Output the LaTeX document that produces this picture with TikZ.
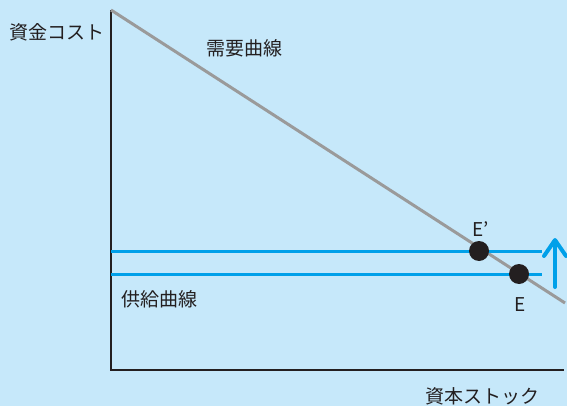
\documentclass[tikz,border=0pt]{standalone}
\usepackage{fontspec}
\setmainfont{Noto Sans CJK JP}
\usetikzlibrary{arrows.meta}
\definecolor{bg}{HTML}{C6E8FA}
\definecolor{axiscol}{HTML}{231F20}
\definecolor{demand}{HTML}{9A9A9A}
\definecolor{supply}{HTML}{00A0E9}
\tikzset{
  lbl/.style={font=\fontsize{19}{22}\selectfont, text=axiscol, inner sep=0pt},
  axisline/.style={draw=axiscol, line width=1.8pt},
  demandline/.style={draw=demand, line width=3pt},
  supplyline/.style={draw=supply, line width=3pt},
  eqdot/.style={circle, fill=axiscol, minimum size=20pt, inner sep=0pt},
}
\begin{document}
\begin{tikzpicture}[x=1pt,y=-1pt]
\fill[bg] (0,0) rectangle (567,406);
\useasboundingbox (0,0) rectangle (567,406);
\coordinate (O) at (111,370);
\coordinate (ytop) at (111,10);
\coordinate (xend) at (564,370);
\draw[axisline] (ytop) -- (O) -- (xend);
\coordinate (d1) at (111,10);
\coordinate (d2) at (565,303);
\draw[demandline] (d1) -- (d2);
\coordinate (s1a) at (111,251);
\coordinate (s1b) at (542,251);
\coordinate (s2a) at (111,274);
\coordinate (s2b) at (542,274);
\draw[supplyline] (s1a) -- (s1b);
\draw[supplyline] (s2a) -- (s2b);
\coordinate (ar1) at (555,287);
\coordinate (ar2) at (555,238);
\draw[supply, line width=4pt, line cap=round, -{Straight Barb[length=16pt,width=22pt,line width=4pt,round]}] (ar1) -- (ar2);
\node[eqdot] (Ep) at (479,251) {};
\node[eqdot] (E) at (519,274) {};
\node[lbl] (Eplbl) at (481,229) {E’};
\node[lbl] (Elbl) at (520,305) {E};
\node[lbl] (ylbl) at (57,32) {資金コスト};
\node[lbl] (xlbl) at (482,396) {資本ストック};
\node[lbl] (dlbl) at (244,48) {需要曲線};
\node[lbl] (slbl) at (159,299) {供給曲線};
\end{tikzpicture}
\end{document}
